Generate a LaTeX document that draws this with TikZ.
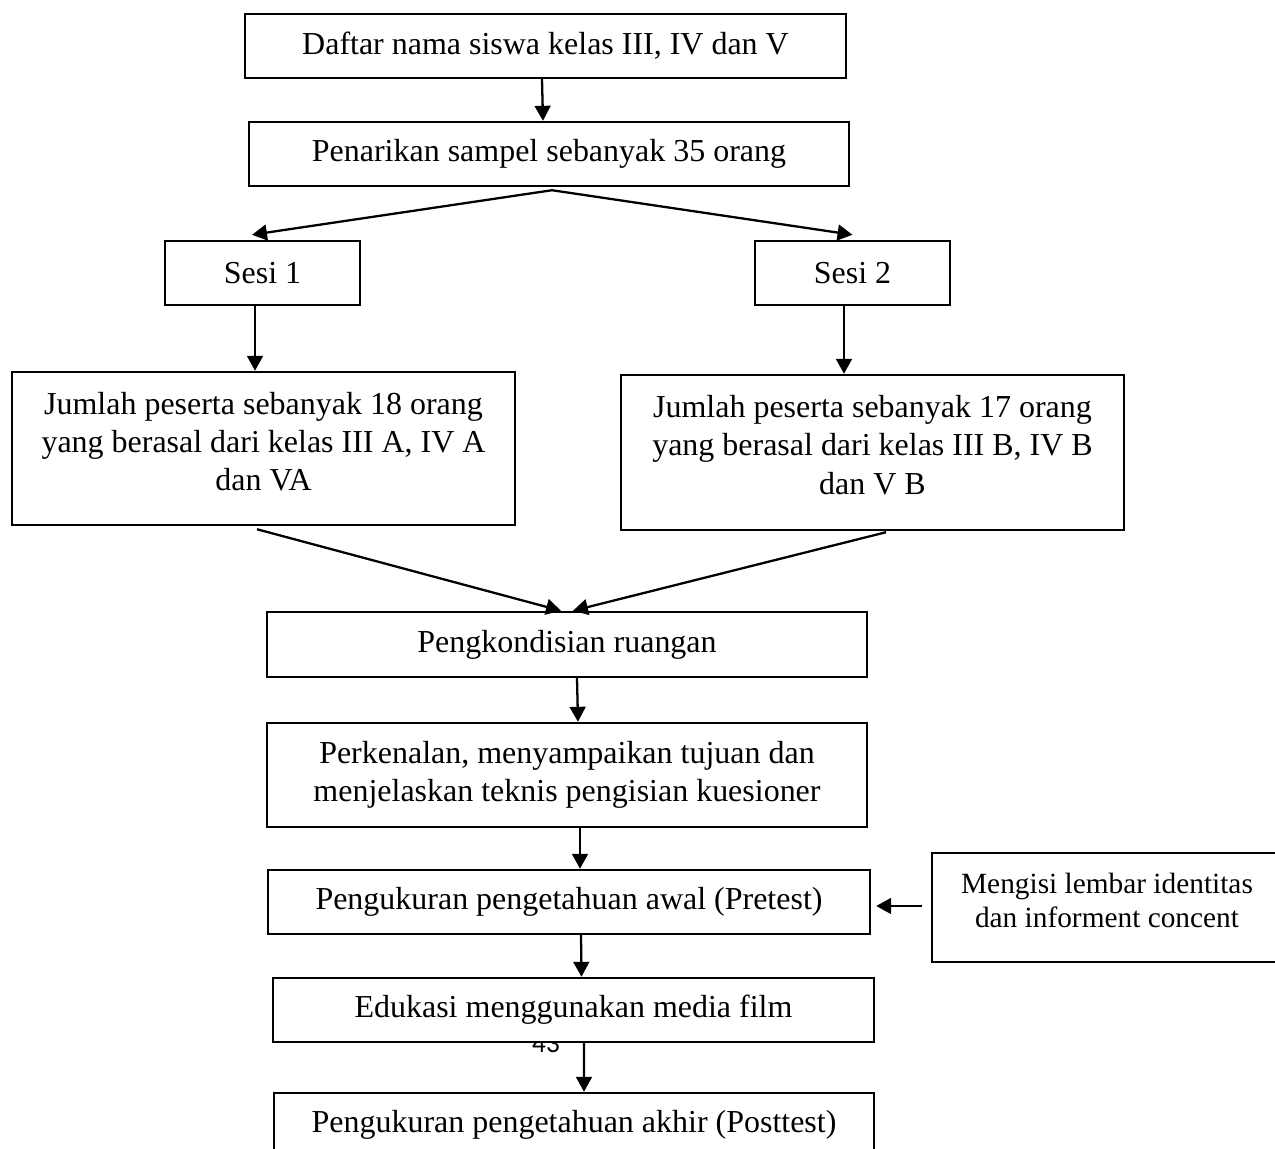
\documentclass[tikz,border=0pt]{standalone}
\usepackage{fontspec}
\setmainfont{Liberation Serif}
\newfontfamily\pgnum{Carlito}
\usetikzlibrary{arrows.meta}
\tikzset{
  box/.style={draw=black, line width=1.4pt, fill=white, align=center, inner sep=0pt,
    font=\fontsize{18.2}{21.8}\selectfont},
  txt/.style={align=center, inner sep=0pt, font=\fontsize{18.2}{21.8}\selectfont},
  smalltxt/.style={align=center, inner sep=0pt, font=\fontsize{16.7}{19.8}\selectfont},
  arr/.style={line width=1.3pt, -{Triangle[length=8.5pt,width=9pt]}},
}
\begin{document}
\begin{tikzpicture}[x=0.02cm, y=-0.02cm]
\useasboundingbox (0,0) rectangle (1275,1149);
\node[font=\pgnum\fontsize{15.5}{17}\selectfont, inner sep=0pt] (pg) at (546,1044) {43};
\node[box, minimum width=601*0.02cm, minimum height=64*0.02cm] (b1) at (545.5,46) {Daftar nama siswa kelas III, IV dan V};
\node[box, minimum width=600*0.02cm, minimum height=64*0.02cm] (b2) at (549,154) {Penarikan sampel sebanyak 35 orang};
\node[box, minimum width=195*0.02cm, minimum height=64*0.02cm] (s1) at (262.5,273) {Sesi 1};
\node[box, minimum width=195*0.02cm, minimum height=64*0.02cm] (s2) at (852.5,273) {Sesi 2};
\node[box, minimum width=503*0.02cm, minimum height=153*0.02cm,
  label={[txt, yshift=7*0.02cm]center:{Jumlah peserta sebanyak 18 orang\\yang berasal dari kelas III A, IV A\\dan VA}}] (b5) at (263.5,448.5) {};
\node[box, minimum width=503*0.02cm, minimum height=155*0.02cm,
  label={[txt, yshift=7.5*0.02cm]center:{Jumlah peserta sebanyak 17 orang\\yang berasal dari kelas III B, IV B\\dan V B}}] (b6) at (872.5,452.5) {};
\node[box, minimum width=600*0.02cm, minimum height=65*0.02cm] (b7) at (567,644.5) {Pengkondisian ruangan};
\node[box, minimum width=600*0.02cm, minimum height=104*0.02cm] (b8) at (567,775) {Perkenalan, menyampaikan tujuan dan\\menjelaskan teknis pengisian kuesioner};
\node[box, minimum width=602*0.02cm, minimum height=64*0.02cm] (b9) at (569,902) {Pengukuran pengetahuan awal (Pretest)};
\node[box, minimum width=350*0.02cm, minimum height=109*0.02cm,
  label={[smalltxt, yshift=7*0.02cm]center:{Mengisi lembar identitas\\dan informent concent}}] (b10) at (1107,907.5) {};
\node[box, minimum width=601*0.02cm, minimum height=64*0.02cm] (b11) at (573.5,1010) {Edukasi menggunakan media film};
\node[box, minimum width=600*0.02cm, minimum height=64*0.02cm] (b12) at (574,1125) {Pengukuran pengetahuan akhir (Posttest)};
\draw[arr] ([xshift=-3.5*0.02cm]b1.south) -- ([xshift=-6*0.02cm]b2.north);
\draw[arr] ([xshift=3*0.02cm,yshift=-3*0.02cm]b2.south) -- ([xshift=-10.5*0.02cm,yshift=5*0.02cm]s1.north);
\draw[arr] ([xshift=3*0.02cm,yshift=-3*0.02cm]b2.south) -- ([yshift=5*0.02cm]s2.north);
\draw[arr] ([xshift=-7.5*0.02cm]s1.south) -- ([xshift=-8.5*0.02cm]b5.north);
\draw[arr] ([xshift=-8.5*0.02cm]s2.south) -- ([xshift=-28.5*0.02cm]b6.north);
\draw[arr] ([xshift=-6.5*0.02cm,yshift=-3*0.02cm]b5.south) -- ([xshift=-6*0.02cm]b7.north);
\draw[arr] ([xshift=13.5*0.02cm,yshift=-1*0.02cm]b6.south) -- ([xshift=6*0.02cm]b7.north);
\draw[arr] ([xshift=10*0.02cm]b7.south) -- ([xshift=11*0.02cm]b8.north);
\draw[arr] ([xshift=13*0.02cm]b8.south) -- ([xshift=11*0.02cm]b9.north);
\draw[arr] ([xshift=-9*0.02cm,yshift=1.5*0.02cm]b10.west) -- ([xshift=5*0.02cm,yshift=-4*0.02cm]b9.east);
\draw[arr] ([xshift=12*0.02cm]b9.south) -- ([xshift=8*0.02cm]b11.north);
\draw[arr] ([xshift=10.5*0.02cm]b11.south) -- ([xshift=10*0.02cm]b12.north);
\end{tikzpicture}
\end{document}
